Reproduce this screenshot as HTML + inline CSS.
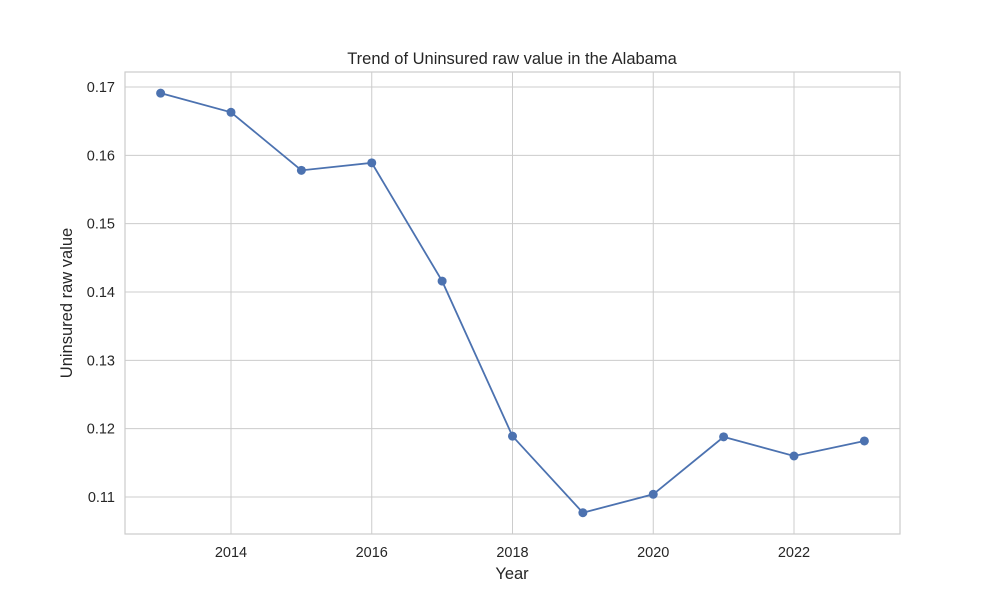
<!DOCTYPE html>
<html><head><meta charset="utf-8"><style>
body{margin:0;background:#fff;}
svg{display:block;font-family:"Liberation Sans","DejaVu Sans",sans-serif;}
</style></head><body>
<svg id="chart" width="1000" height="600" viewBox="0 0 1000 600"></svg>
<script>
const years = [2013,2014,2015,2016,2017,2018,2019,2020,2021,2022,2023];
const values = [0.1691,0.1663,0.1578,0.1589,0.1416,0.1189,0.1077,0.1104,0.1188,0.1160,0.1182];
const xTicks = [2014,2016,2018,2020,2022];
const yTicks = [0.11,0.12,0.13,0.14,0.15,0.16,0.17];

const L=125,R=900,T=72,B=534;
function xs(v){return 231+(v-2014)*70.375;}
function ys(v){return 497-(v-0.11)*6833.3;}
const NS="http://www.w3.org/2000/svg";
const svg=document.getElementById('chart');
function el(tag,attrs,parent){const e=document.createElementNS(NS,tag);for(const k in attrs)e.setAttribute(k,attrs[k]);(parent||svg).appendChild(e);return e;}

const grid=el('g',{});


xTicks.forEach(t=>{
  const l=el('line',{x1:xs(t),x2:xs(t),y1:T,y2:B,stroke:'#cccccc','stroke-width':1},grid);
  
  
  const tx=el('text',{x:xs(t),y:B+23,'text-anchor':'middle','font-size':14.5,fill:'#262626'});
  tx.textContent=t;
  
  
});
yTicks.forEach(t=>{
  const l=el('line',{x1:L,x2:R,y1:ys(t),y2:ys(t),stroke:'#cccccc','stroke-width':1},grid);
  
  
  const tx=el('text',{x:L-10,y:ys(t)+5,'text-anchor':'end','font-size':14.5,fill:'#262626'});
  tx.textContent=t.toFixed(2);
  
  
});
const frame=el('rect',{x:L,y:T,width:R-L,height:B-T,fill:'none',stroke:'#cccccc','stroke-width':1.2});



const pts=years.map((y,i)=>xs(y)+','+ys(values[i])).join(' ');
const line=el('polyline',{points:pts,fill:'none',stroke:'#4c72b0','stroke-width':1.8});


years.forEach((y,i)=>{
  const c=el('circle',{cx:xs(y),cy:ys(values[i]),r:4.5,fill:'#4c72b0'});
  
  
});

const title=el('text',{x:512,y:64,'text-anchor':'middle','font-size':16.5,fill:'#262626'});
title.textContent='Trend of Uninsured raw value in the Alabama';


const xt=el('text',{x:512,y:579,'text-anchor':'middle','font-size':16.5,fill:'#262626'});
xt.textContent='Year';


const yt=el('text',{x:0,y:0,'text-anchor':'middle','font-size':16.5,fill:'#262626',transform:'translate(72,303) rotate(-90)'});
yt.textContent='Uninsured raw value';


</script>
</body></html>
